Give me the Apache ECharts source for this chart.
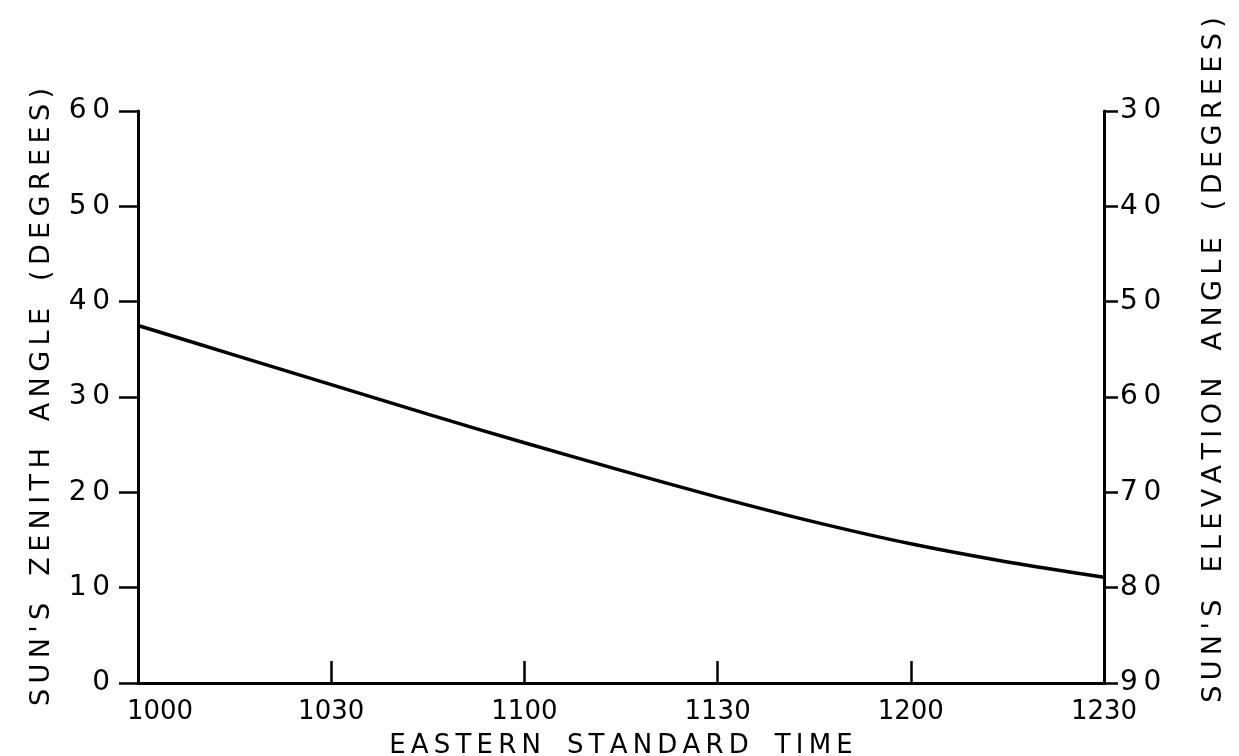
<!DOCTYPE html>
<html>
<head>
<meta charset="utf-8">
<script src="https://cdn.jsdelivr.net/npm/echarts@6/dist/echarts.min.js"></script>
<style>
html,body{margin:0;padding:0;background:#fff;}
#c{width:1239px;height:756px;}
</style>
</head>
<body>
<div id="c"></div>
<script>
// minutes after 10:00 EST
const minutes = [0, 15, 30, 45, 60, 75, 90, 105, 120, 135, 150];
// sun's zenith angle (degrees)
const zenith = [37.5, 34.4, 31.3, 28.2, 25.2, 22.3, 19.5, 16.9, 14.6, 12.7, 11.1];
const xTickLabels = ['1000', '1030', '1100', '1130', '1200', '1230'];
const leftTitle = "SUN'S ZENITH ANGLE (DEGREES)";
const rightTitle = "SUN'S ELEVATION ANGLE (DEGREES)";
const xTitle = 'EASTERN STANDARD TIME';

function spaced(s) {
  return s.split(' ').map(w => w.split('').join('\u2009')).join('\u2002\u2002');
}
function digits(v) { return String(v).split('').join('\u2009'); }

const FONT = 'DejaVu Sans';
const chart = echarts.init(document.getElementById('c'), null, {renderer: 'canvas'});
chart.setOption({
  backgroundColor: '#fff',
  animation: false,
  grid: {left: 138, right: 135, top: 111, bottom: 73, outerBoundsMode: 'none', containLabel: false},
  xAxis: {
    type: 'value', min: 0, max: 150, interval: 30,
    axisLine: {show: true, lineStyle: {color: '#000', width: 3}},
    axisTick: {show: true, inside: true, length: 22, lineStyle: {color: '#000', width: 2.5}},
    splitLine: {show: false},
    axisLabel: {
      color: '#000', fontFamily: FONT, fontSize: 26, margin: 16,
      formatter: v => {
        const s = xTickLabels[Math.round(v / 30)];
        return v === 0 ? '{first|' + s + '}' : s;
      },
      rich: {first: {fontFamily: FONT, fontSize: 26, color: '#000', padding: [0, 0, 0, 44]}}
    },
    name: spaced(xTitle), nameLocation: 'middle', nameGap: 50,
    nameTextStyle: {color: '#000', fontFamily: FONT, fontSize: 26}
  },
  yAxis: [
    {
      type: 'value', min: 0, max: 60, interval: 10, position: 'left',
      axisLine: {show: true, lineStyle: {color: '#000', width: 3}},
      axisTick: {show: true, inside: false, length: 19, lineStyle: {color: '#000', width: 2.5}},
      splitLine: {show: false},
      axisLabel: {color: '#000', fontFamily: FONT, fontSize: 28, margin: 28, formatter: v => digits(v)},
      name: spaced(leftTitle), nameLocation: 'middle', nameGap: 83, nameRotate: 90,
      nameTextStyle: {color: '#000', fontFamily: FONT, fontSize: 27}
    },
    {
      type: 'value', min: 30, max: 90, interval: 10, position: 'right', inverse: true,
      axisLine: {show: true, lineStyle: {color: '#000', width: 3}},
      axisTick: {show: true, inside: false, length: 14, lineStyle: {color: '#000', width: 2.5}},
      splitLine: {show: false},
      axisLabel: {color: '#000', fontFamily: FONT, fontSize: 28, margin: 16, formatter: v => digits(v)}
    }
  ],
  graphic: [{
    type: 'text', x: 1214, y: 360, rotation: Math.PI / 2,
    style: {text: spaced(rightTitle), fill: '#000', font: '27px "DejaVu Sans"', textAlign: 'center', textVerticalAlign: 'middle'}
  }],
  series: [{
    type: 'line', yAxisIndex: 0, smooth: 0.3, symbol: 'none',
    lineStyle: {color: '#000', width: 3.5},
    data: minutes.map((m, i) => [m, zenith[i]])
  }]
});
</script>
</body>
</html>
